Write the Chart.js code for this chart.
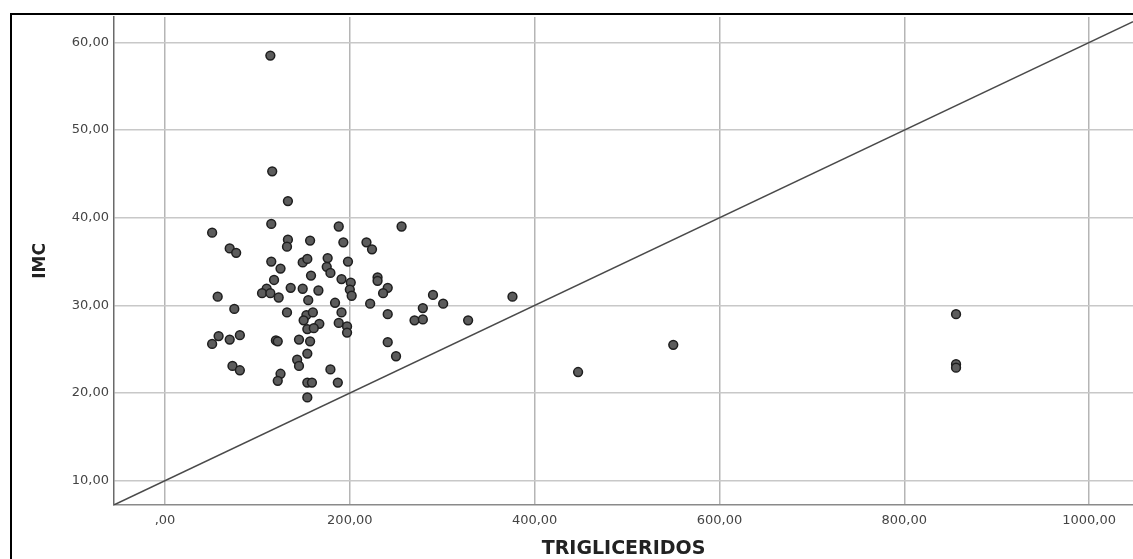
<!DOCTYPE html>
<html>
<head>
<meta charset="utf-8">
<script src="https://cdn.jsdelivr.net/npm/chart.js@4.4.0/dist/chart.umd.min.js"></script>
<style>
    html, body { margin: 0; padding: 0; background: #fff; overflow: hidden; }
    #frame {
        position: absolute; left: 10px; top: 13px; width: 1200px; height: 600px;
        border-left: 2px solid #000; border-top: 2px solid #000;
    }
    #wrap { position: absolute; left: 0; top: 0; width: 1139px; height: 559px; }
</style>
</head>
<body>
<div id="frame"></div>
<div id="wrap"><canvas id="myChart"></canvas></div>
<script>
// TRIGLICERIDOS (x) e IMC (y)
const trigliceridos = [
    114, 116, 133, 115, 188, 256, 51, 133, 132, 157,
    193, 218, 224, 70, 77, 115, 125, 149, 154, 176,
    198, 175, 179, 158, 118, 191, 201, 230, 230, 241,
    236, 110, 105, 114, 123, 136, 149, 166, 200, 202,
    155, 184, 57, 75, 132, 153, 160, 150, 167, 154,
    161, 191, 188, 197, 197, 222, 241, 290, 301, 279,
    270, 279, 328, 376, 58, 51, 70, 81, 120, 122,
    145, 157, 154, 241, 250, 73, 81, 143, 145, 179,
    125, 122, 154, 159, 187, 154, 447, 550, 856, 856,
    856
];
const imc = [
    58.5, 45.3, 41.9, 39.3, 39.0, 39.0, 38.3, 37.5, 36.7, 37.4,
    37.2, 37.2, 36.4, 36.5, 36.0, 35.0, 34.2, 34.9, 35.3, 35.4,
    35.0, 34.4, 33.7, 33.4, 32.9, 33.0, 32.6, 33.2, 32.8, 32.0,
    31.4, 31.9, 31.4, 31.4, 30.9, 32.0, 31.9, 31.7, 31.8, 31.1,
    30.6, 30.3, 31.0, 29.6, 29.2, 28.9, 29.2, 28.3, 27.9, 27.3,
    27.4, 29.2, 28.0, 27.6, 26.9, 30.2, 29.0, 31.2, 30.2, 29.7,
    28.3, 28.4, 28.3, 31.0, 26.5, 25.6, 26.1, 26.6, 26.0, 25.9,
    26.1, 25.9, 24.5, 25.8, 24.2, 23.1, 22.6, 23.8, 23.1, 22.7,
    22.2, 21.4, 21.2, 21.2, 21.2, 19.5, 22.4, 25.5, 29.0, 23.3,
    22.9
];

// linea de referencia
const lineaX = [-55.2, 1047.6];
const lineaY = [7.24, 62.38];

const xTicks = [0, 200, 400, 600, 800, 1000];
const yTicks = [10, 20, 30, 40, 50, 60];

function coma(v) {
    if (v === 0) return ',00';
    return v.toFixed(2).replace('.', ',');
}

let puntos = [];
for (let i = 0; i < trigliceridos.length; i++) {
    puntos.push({ x: trigliceridos[i], y: imc[i] });
}
let linea = [];
for (let i = 0; i < lineaX.length; i++) {
    linea.push({ x: lineaX[i], y: lineaY[i] });
}

const ctx = document.getElementById('myChart');

new Chart(ctx, {
    type: 'scatter',
    data: {
        datasets: [{
            label: 'IMC',
            data: puntos,
            pointRadius: 4.4,
            pointHoverRadius: 4.4,
            backgroundColor: '#5c5c5c',
            borderColor: '#1e1e1e',
            borderWidth: 1.5,
            order: 1
        },
        {
            label: 'linea',
            type: 'line',
            data: linea,
            borderColor: '#4a4a4a',
            borderWidth: 1.5,
            pointRadius: 0,
            fill: false,
            order: 2
        }]
    },
    options: {
        responsive: true,
        maintainAspectRatio: false,
        animation: false,
        layout: { padding: { left: 0, top: 17, right: 0, bottom: 0 } },
        plugins: {
            legend: { display: false },
            tooltip: { enabled: false }
        },
        scales: {
            x: {
                type: 'linear',
                min: -55.2,
                max: 1047.6,
                afterBuildTicks: s => { s.ticks = xTicks.map(v => ({ value: v })); },
                afterFit: s => { s.height = 54; },
                grid: { color: '#b5b5b5', lineWidth: 1.5, drawTicks: false },
                border: { color: '#8a8a8a', width: 1.5 },
                ticks: {
                    callback: v => coma(v),
                    color: '#444',
                    padding: 8,
                    maxRotation: 0,
                    font: { family: 'DejaVu Sans', size: 13 }
                },
                title: {
                    display: true,
                    text: 'TRIGLICERIDOS',
                    color: '#222',
                    padding: 0,
                    font: { family: 'DejaVu Sans', size: 19, weight: 'bold', lineHeight: 1 }
                }
            },
            y: {
                type: 'linear',
                min: 7.23,
                max: 62.9,
                afterBuildTicks: s => { s.ticks = yTicks.map(v => ({ value: v })); },
                afterFit: s => { s.width = 114; },
                grid: { color: '#c8c8c8', lineWidth: 1.5, drawTicks: false },
                border: { color: '#6a6a6a', width: 1.5 },
                ticks: {
                    callback: v => coma(v),
                    color: '#444',
                    padding: 5,
                    font: { family: 'DejaVu Sans', size: 13 }
                },
                title: {
                    display: true,
                    text: 'IMC',
                    color: '#222',
                    padding: { top: 32, bottom: 0 },
                    font: { family: 'DejaVu Sans', size: 17, weight: 'bold', lineHeight: 1 }
                }
            }
        }
    }
});
</script>
</body>
</html>
